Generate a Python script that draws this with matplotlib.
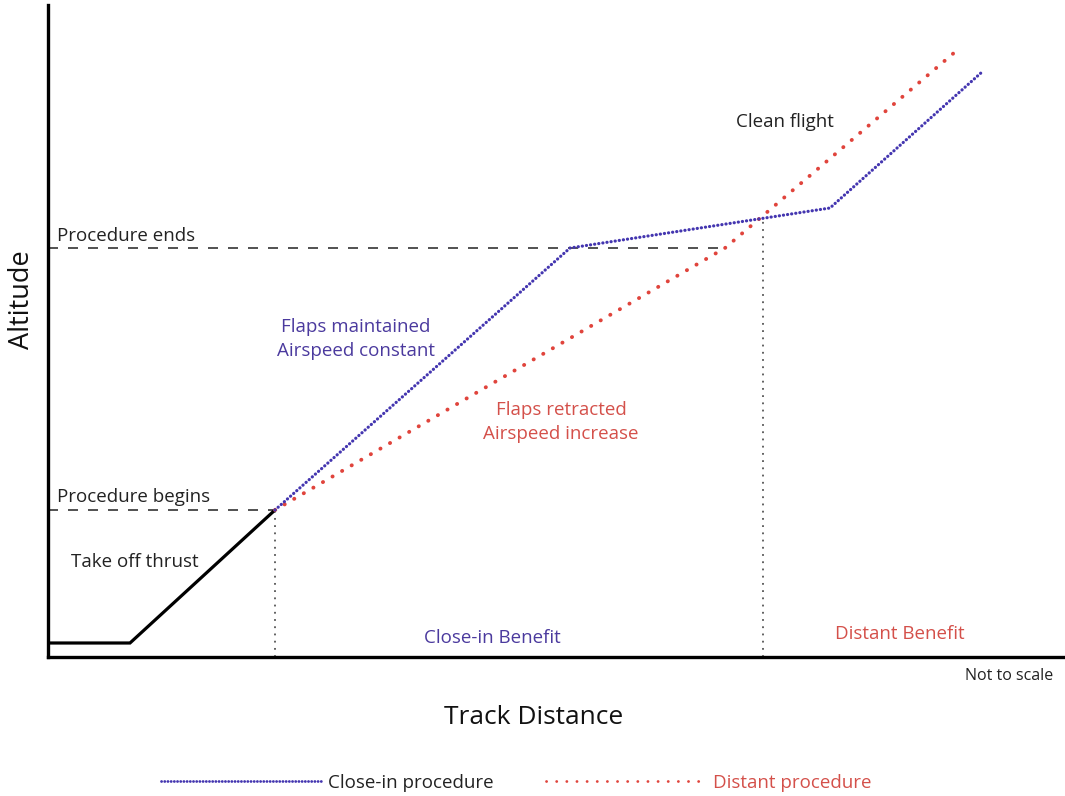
import matplotlib
matplotlib.use("Agg")
import matplotlib.pyplot as plt
from matplotlib.lines import Line2D

plt.rcParams["font.family"] = ["Open Sans", "DejaVu Sans"]

# profile break points (track distance, altitude), arbitrary units - not to scale
takeoff_dist = [2, 82, 227]
takeoff_alt = [14, 14, 147]
closein_dist = [227, 522, 782, 934]
closein_alt = [147, 409, 449, 585]
distant_dist = [227, 677, 907]
distant_alt = [147, 409, 605]

alt_begin = 147
alt_end = 409
dist_begin = 227
dist_end = 677
dist_split = 715
alt_split = 439

BLUE = "#4436b0"
RED = "#e0443c"
BLUE_TXT = "#4b3a9e"
RED_TXT = "#d4504a"
GREY = "#555555"

fig = plt.figure(figsize=(10.65, 7.96), dpi=100)
ax = fig.add_axes([48 / 1065, 139 / 796, 1017 / 1065, 652 / 796])
ax.set_xlim(0, 1017)
ax.set_ylim(0, 652)
for s in ["top", "right"]:
    ax.spines[s].set_visible(False)
for s in ["left", "bottom"]:
    ax.spines[s].set_linewidth(2.4)
ax.set_xticks([])
ax.set_yticks([])

# reference lines
ax.plot([0, dist_begin], [alt_begin, alt_begin], color="#333333", lw=1.2, dashes=(6, 6))
ax.plot([0, dist_end], [alt_end, alt_end], color="#333333", lw=1.2, dashes=(6, 6))
ax.plot([dist_begin, dist_begin], [0, alt_begin], color=GREY, lw=1.3, linestyle=(0, (1, 3)))
ax.plot([dist_split, dist_split], [0, alt_split], color=GREY, lw=1.3, linestyle=(0, (1, 3)))

# take off segment
ax.plot(takeoff_dist, takeoff_alt, color="black", lw=2.3, solid_joinstyle="miter")

# procedures
ax.plot(distant_dist, distant_alt, color=RED, lw=2.8, linestyle=(0, (0.05, 2.8)),
        dash_capstyle="round")
ax.plot(closein_dist, closein_alt, color=BLUE, lw=2.3, linestyle=(0, (0.05, 1.25)),
        dash_capstyle="round")

fs = 13.5
ax.text(9, 421, "Procedure ends", fontsize=fs, va="center", ha="left", color="#222222")
ax.text(9, 160, "Procedure begins", fontsize=fs, va="center", ha="left", color="#222222")
ax.text(23, 95, "Take off thrust", fontsize=fs, va="center", ha="left", color="#222222")
ax.text(308, 318, "Flaps maintained\nAirspeed constant", fontsize=fs, va="center",
        ha="center", color=BLUE_TXT, linespacing=1.4)
ax.text(513, 235, "Flaps retracted\nAirspeed increase", fontsize=fs, va="center",
        ha="center", color=RED_TXT, linespacing=1.4)
ax.text(737, 535, "Clean flight", fontsize=fs, va="center", ha="center", color="#222222")
ax.text(444, 19, "Close-in Benefit", fontsize=fs, va="center", ha="center", color=BLUE_TXT)
ax.text(852, 23, "Distant Benefit", fontsize=fs, va="center", ha="center", color=RED_TXT)

fig.text(1053 / 1065, 1 - 676 / 796, "Not to scale", fontsize=11.5, ha="right",
         va="center", color="#222222")
fig.text(534 / 1065, 1 - 718 / 796, "Track Distance", fontsize=19, ha="center",
         va="center", color="#111111")
fig.text(22 / 1065, 1 - 300 / 796, "Altitude", fontsize=19.5, ha="center",
         va="center", rotation=90, color="#111111")

handles = [
    Line2D([], [], color=BLUE, lw=2.0, linestyle=(0, (0.05, 1.1)), dash_capstyle="round"),
    Line2D([], [], color=RED, lw=2.0, linestyle=(0, (0.05, 3.6)), dash_capstyle="round"),
]
leg = fig.legend(handles, ["Close-in procedure", "Distant procedure"], loc="center",
                 bbox_to_anchor=(516 / 1065, 1 - 783 / 796), ncol=2, frameon=False,
                 fontsize=fs, handlelength=8.6, handletextpad=0.3, columnspacing=2.8)
leg.get_texts()[0].set_color("#222222")
leg.get_texts()[1].set_color(RED_TXT)

fig.savefig("out.png", dpi=100)
